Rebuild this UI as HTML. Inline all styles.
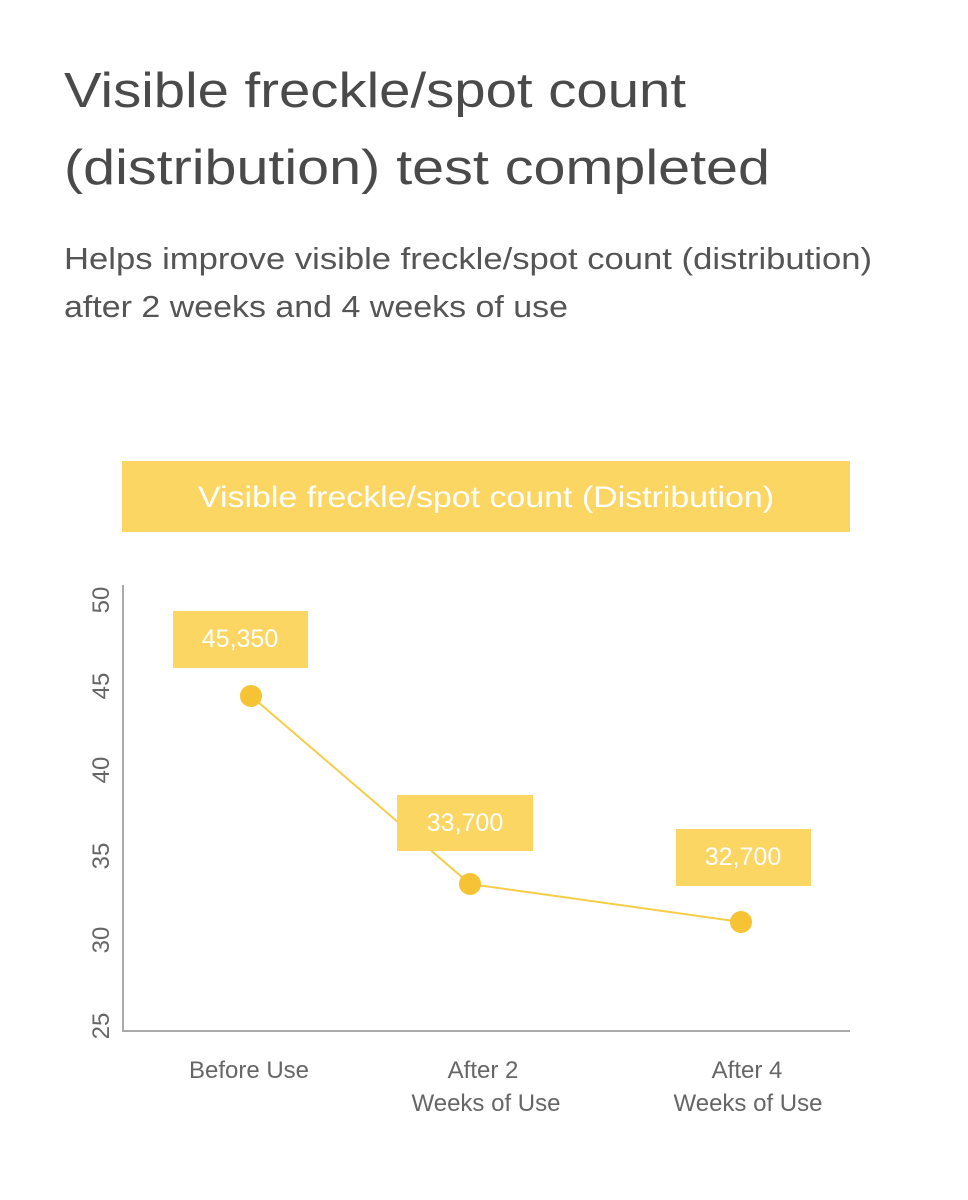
<!DOCTYPE html>
<html><head><meta charset="utf-8"><style>
html,body{margin:0;padding:0;background:#fff;}
body{width:968px;height:1200px;position:relative;overflow:hidden;font-family:"Liberation Sans","DejaVu Sans",sans-serif;}
</style></head><body>
<svg width="968" height="1200" xmlns="http://www.w3.org/2000/svg" style="position:absolute;left:0;top:0">
<g font-family="Liberation Sans, DejaVu Sans, sans-serif">
<text x="64" y="107" font-size="49" fill="#4a4a4a" textLength="622" lengthAdjust="spacingAndGlyphs">Visible freckle/spot count</text>
<text x="64" y="184" font-size="49" fill="#4a4a4a" textLength="706" lengthAdjust="spacingAndGlyphs">(distribution) test completed</text>
<text x="64" y="269" font-size="31" fill="#555" textLength="808" lengthAdjust="spacingAndGlyphs">Helps improve visible freckle/spot count (distribution)</text>
<text x="64" y="317" font-size="31" fill="#555" textLength="504" lengthAdjust="spacingAndGlyphs">after 2 weeks and 4 weeks of use</text>
<rect x="122" y="461" width="728" height="71" fill="#fcd663"/>
<text x="486" y="507" font-size="30" fill="#fff" text-anchor="middle" textLength="576" lengthAdjust="spacingAndGlyphs">Visible freckle/spot count (Distribution)</text>
<line x1="123" y1="585" x2="123" y2="1032" stroke="#aaa" stroke-width="2"/>
<line x1="122" y1="1031" x2="850" y2="1031" stroke="#aaa" stroke-width="2"/>
<g font-size="24" fill="#666" text-anchor="middle">
<text transform="translate(109,600) rotate(-90)">50</text>
<text transform="translate(109,686) rotate(-90)">45</text>
<text transform="translate(109,770) rotate(-90)">40</text>
<text transform="translate(109,856) rotate(-90)">35</text>
<text transform="translate(109,940) rotate(-90)">30</text>
<text transform="translate(109,1026) rotate(-90)">25</text>
</g>
<polyline points="251,696 470,884 741,922" fill="none" stroke="#f6cd47" stroke-width="2"/>
<circle cx="251" cy="696" r="11" fill="#f5c333"/>
<circle cx="470" cy="884" r="11" fill="#f5c333"/>
<circle cx="741" cy="922" r="11" fill="#f5c333"/>
<rect x="173" y="611" width="135" height="57" fill="#fcd663"/>
<rect x="397" y="795" width="136" height="56" fill="#fcd663"/>
<rect x="676" y="829" width="135" height="57" fill="#fcd663"/>
<g font-size="25" fill="#fff" text-anchor="middle">
<text x="240" y="647">45,350</text>
<text x="465" y="831">33,700</text>
<text x="743" y="865">32,700</text>
</g>
<g font-size="24" fill="#666" text-anchor="middle">
<text x="249" y="1078">Before Use</text>
<text x="483" y="1078">After 2</text>
<text x="486" y="1111">Weeks of Use</text>
<text x="747" y="1078">After 4</text>
<text x="748" y="1111">Weeks of Use</text>
</g>
</g>
</svg>
</body></html>
